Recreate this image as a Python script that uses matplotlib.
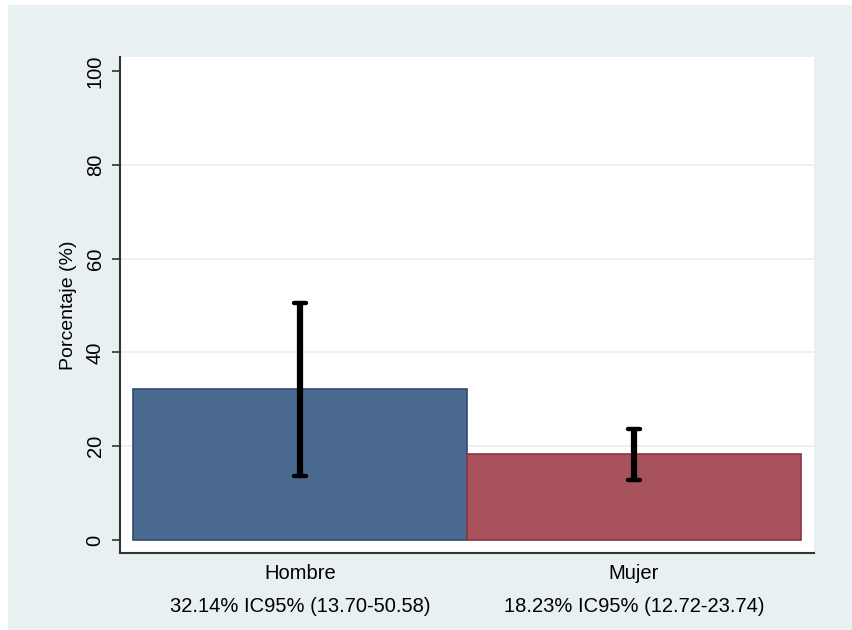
import matplotlib.pyplot as plt
from matplotlib.patches import Rectangle

plt.rcParams['font.family'] = ['Liberation Sans Narrow', 'Liberation Sans', 'DejaVu Sans']

# Prevalence by sex with 95% confidence intervals
groups = ['Hombre', 'Mujer']
pct = [32.14, 18.23]
ci_low = [13.70, 12.72]
ci_high = [50.58, 23.74]
bar_colors = ['#4a6a8f', '#a8525e']
edge_colors = ['#2f4d70', '#8e3444']
y_ticks = [0, 20, 40, 60, 80, 100]

bg = '#e8f0f2'

fig = plt.figure(figsize=(8.53, 6.3), dpi=100, facecolor='white')
fig.patches.append(Rectangle((8 / 853, 0), 1, 1 - 5 / 630, transform=fig.transFigure,
                             facecolor=bg, edgecolor='none', zorder=-10))

ax = fig.add_axes([120 / 853, 1 - 552.5 / 630, (814 - 120) / 853, (552.5 - 57) / 630])
ax.set_facecolor('white')

x = list(range(len(groups)))
ax.bar(x, pct, width=1.0, color=bar_colors, edgecolor=edge_colors, linewidth=1.2, zorder=2)

for xi, p, lo, hi in zip(x, pct, ci_low, ci_high):
    ax.plot([xi, xi], [lo, hi], color='black', lw=4.5, solid_capstyle='butt', zorder=3)
    for y in (lo, hi):
        ax.plot([xi - 0.017, xi + 0.017], [y, y], color='black', lw=3.2,
                solid_capstyle='round', zorder=3)

ax.set_xlim(-0.539, 1.539)
ax.set_ylim(-2.67, 102.98)

for t in y_ticks[1:-1]:
    ax.axhline(t, color='#e6eef1', lw=1.2, zorder=1)

ax.set_yticks(y_ticks)
ax.set_yticklabels([str(t) for t in y_ticks], rotation=90, va='center', fontsize=14.5)
ax.tick_params(axis='y', length=6, width=1.2, color='#333333', pad=5)
ax.set_ylabel('Porcentaje (%)', fontsize=14, labelpad=6)

ax.set_xticks(x)
ax.set_xticklabels([f'{g}\n\n{p:.2f}% IC95% ({lo:.2f}-{hi:.2f})'
                    for g, p, lo, hi in zip(groups, pct, ci_low, ci_high)],
                   fontsize=14.5, linespacing=0.85)
ax.tick_params(axis='x', length=0, pad=8)

for s in ('top', 'right'):
    ax.spines[s].set_visible(False)
for s in ('left', 'bottom'):
    ax.spines[s].set_color('#333333')
    ax.spines[s].set_linewidth(1.5)

fig.savefig('out.png', dpi=100, facecolor=fig.get_facecolor())
